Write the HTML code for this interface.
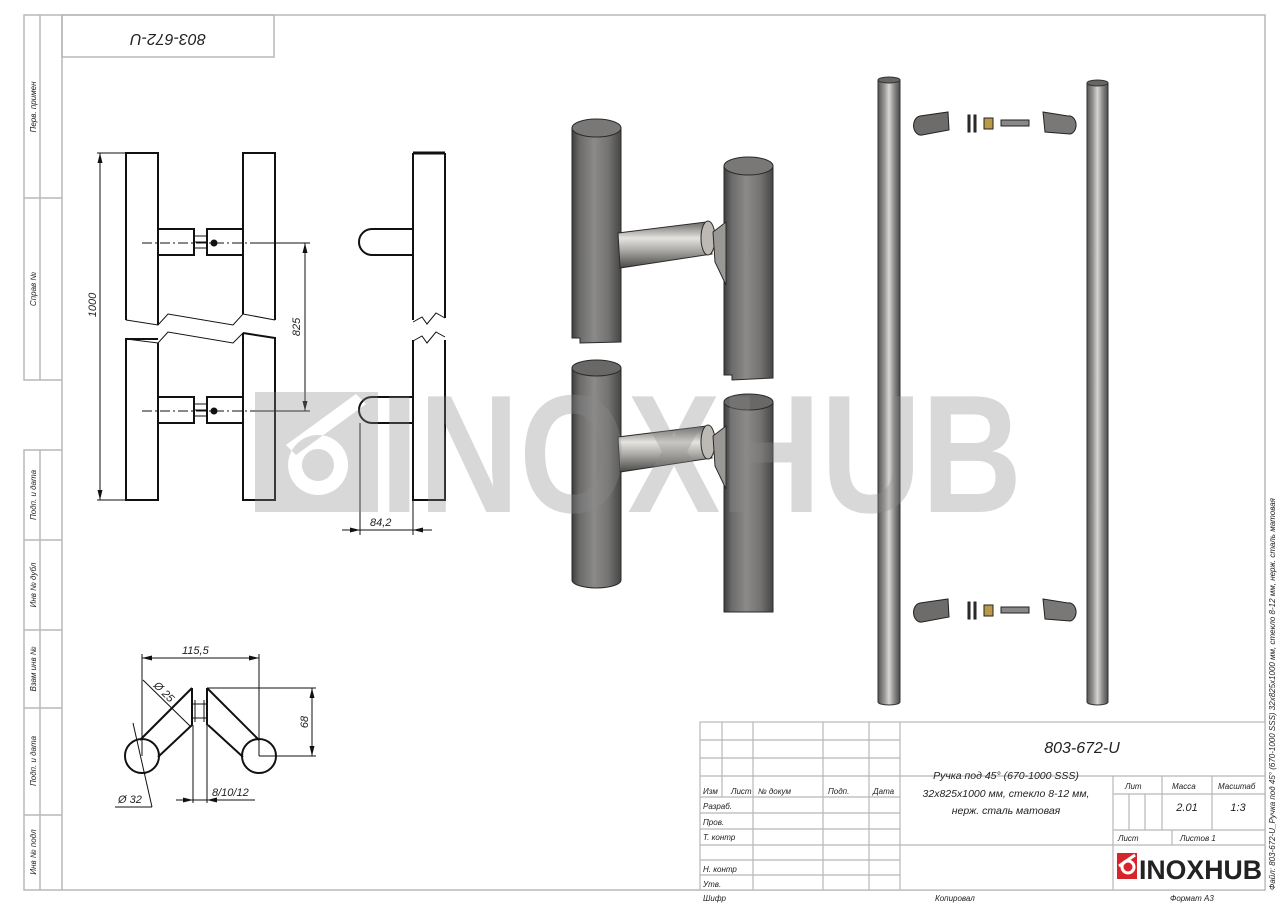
<!DOCTYPE html>
<html><head><meta charset="utf-8"><style>
html,body{margin:0;padding:0;background:#fff}
svg{display:block}
text{font-family:"Liberation Sans",sans-serif;font-style:italic;fill:#222}
</style></head><body>
<svg width="1280" height="905" viewBox="0 0 1280 905" xmlns="http://www.w3.org/2000/svg">
<defs>
<linearGradient id="cyl" x1="0" x2="1" y1="0" y2="0">
<stop offset="0" stop-color="#3e3e3e"/><stop offset="0.15" stop-color="#6a6a6a"/><stop offset="0.45" stop-color="#8c8a88"/><stop offset="0.75" stop-color="#737270"/><stop offset="1" stop-color="#454545"/>
</linearGradient>
<linearGradient id="bar" x1="0" x2="1" y1="0" y2="0">
<stop offset="0" stop-color="#555"/><stop offset="0.3" stop-color="#9a9896"/><stop offset="0.5" stop-color="#d8d6d4"/><stop offset="0.75" stop-color="#8a8886"/><stop offset="1" stop-color="#4a4a4a"/>
</linearGradient>
<linearGradient id="con" x1="0" x2="0" y1="0" y2="1">
<stop offset="0" stop-color="#6a6866"/><stop offset="0.35" stop-color="#e6e4e0"/><stop offset="0.6" stop-color="#b0aeaa"/><stop offset="1" stop-color="#4a4846"/>
</linearGradient>
</defs>

<!-- frame -->
<g fill="none" stroke="#b8b8b8" stroke-width="1.5">
<rect x="62" y="15" width="1203" height="875"/>
<rect x="62" y="15" width="212" height="42"/>
<polyline points="62,15 24,15 24,380 62,380"/>
<line x1="40" y1="15" x2="40" y2="380"/>
<line x1="24" y1="198" x2="62" y2="198"/>
<polyline points="62,450 24,450 24,890 62,890"/>
<line x1="40" y1="450" x2="40" y2="890"/>
<line x1="24" y1="540" x2="62" y2="540"/>
<line x1="24" y1="630" x2="62" y2="630"/>
<line x1="24" y1="708" x2="62" y2="708"/>
<line x1="24" y1="815" x2="62" y2="815"/>
</g>
<text x="168" y="38" font-size="16" text-anchor="middle" transform="rotate(180 168 38)" dominant-baseline="middle">803-672-U</text>
<g font-size="8">
<text transform="translate(36,107) rotate(-90)" text-anchor="middle">Перв. примен</text>
<text transform="translate(36,289) rotate(-90)" text-anchor="middle">Справ №</text>
<text transform="translate(36,495) rotate(-90)" text-anchor="middle">Подп. и дата</text>
<text transform="translate(36,585) rotate(-90)" text-anchor="middle">Инв № дубл</text>
<text transform="translate(36,669) rotate(-90)" text-anchor="middle">Взам инв №</text>
<text transform="translate(36,761) rotate(-90)" text-anchor="middle">Подп. и дата</text>
<text transform="translate(36,852) rotate(-90)" text-anchor="middle">Инв № подл</text>
</g>

<!-- front view -->
<g fill="none" stroke="#111" stroke-width="2">
<polyline points="126,320 126,153 158,153 158,325"/>
<polyline points="243,314 243,153 275,153 275,320"/>
<polyline points="158,339 126,339 126,500 158,500 158,343"/>
<polyline points="243,333 275,338 275,500 243,500 243,333"/>
<line x1="158" y1="343" x2="158" y2="500"/>
<rect x="158" y="229" width="36" height="26"/><rect x="207" y="229" width="36" height="26"/>
<rect x="158" y="397" width="36" height="26"/><rect x="207" y="397" width="36" height="26"/>
</g>
<g fill="none" stroke="#111" stroke-width="1">
<polyline points="126,320 158,325 168,314 233,325 243,314 275,320"/>
<polyline points="126,339 158,343 168,332 233,343 243,333 275,338"/>
<rect x="194" y="236" width="13" height="12"/><line x1="194" y1="242" x2="207" y2="242"/>
<rect x="194" y="404" width="13" height="12"/><line x1="194" y1="410" x2="207" y2="410"/>
<line x1="142" y1="243" x2="260" y2="243" stroke-dasharray="10,3,2,3"/>
<line x1="142" y1="411" x2="260" y2="411" stroke-dasharray="10,3,2,3"/>
<line x1="97" y1="153" x2="126" y2="153"/><line x1="97" y1="500" x2="126" y2="500"/>
<line x1="100" y1="153" x2="100" y2="500"/>
<line x1="260" y1="243" x2="310" y2="243"/><line x1="260" y1="411" x2="310" y2="411"/>
<line x1="305" y1="243" x2="305" y2="411"/>
</g>
<circle cx="214" cy="243" r="3.5" fill="#111"/><circle cx="214" cy="411" r="3.5" fill="#111"/>
<g fill="#111">
<path d="M100,153 l-2.5,10 h5z"/><path d="M100,500 l-2.5,-10 h5z"/>
<path d="M305,243 l-2.5,10 h5z"/><path d="M305,411 l-2.5,-10 h5z"/>
</g>
<text font-size="11" transform="translate(96,305) rotate(-90)" text-anchor="middle">1000</text>
<text font-size="11" transform="translate(300,327) rotate(-90)" text-anchor="middle">825</text>

<!-- side view -->
<g fill="none" stroke="#111" stroke-width="2">
<line x1="413" y1="153" x2="445" y2="153" stroke-width="3"/>
<polyline points="413,320 413,153"/><polyline points="445,153 445,318"/>
<polyline points="413,340 413,500 445,500 445,340"/>
<path d="M413,229 H372 A13,13 0 0 0 372,255 H413"/>
<path d="M413,397 H372 A13,13 0 0 0 372,423 H413"/>
</g>
<g fill="none" stroke="#111" stroke-width="1">
<polyline points="413,322 422,317 427,324 436,313 445,318"/>
<polyline points="413,341 422,336 427,343 436,332 445,337"/>
<line x1="360" y1="423" x2="360" y2="535"/><line x1="413" y1="500" x2="413" y2="535"/>
<line x1="342" y1="530" x2="432" y2="530"/>
</g>
<g fill="#111"><path d="M360,530 l-10,-2.5 v5z"/><path d="M413,530 l10,-2.5 v5z"/></g>
<text x="370" y="526" font-size="11">84,2</text>

<!-- bottom view -->
<g fill="none" stroke="#111" stroke-width="2">
<circle cx="142" cy="756" r="17"/><circle cx="259" cy="756" r="17"/>
<line x1="140" y1="740" x2="192" y2="688"/><line x1="158" y1="757" x2="192" y2="725"/>
<line x1="192" y1="688" x2="192" y2="725"/>
<line x1="207" y1="688" x2="259" y2="740"/><line x1="208" y1="725" x2="243" y2="757"/>
<line x1="207" y1="688" x2="207" y2="725"/>
</g>
<g fill="none" stroke="#111" stroke-width="1">
<line x1="192" y1="704" x2="207" y2="704"/><line x1="192" y1="718" x2="207" y2="718"/>
<line x1="195" y1="700" x2="195" y2="722"/><line x1="204" y1="700" x2="204" y2="722"/>
<line x1="142" y1="654" x2="142" y2="756"/><line x1="259" y1="654" x2="259" y2="756"/>
<line x1="142" y1="658" x2="259" y2="658"/>
<line x1="207" y1="688" x2="316" y2="688"/><line x1="259" y1="756" x2="316" y2="756"/>
<line x1="312" y1="688" x2="312" y2="756"/>
<line x1="143" y1="680" x2="190" y2="726"/>
<line x1="133" y1="723" x2="152" y2="807"/><line x1="115" y1="807" x2="152" y2="807"/>
<line x1="193" y1="725" x2="193" y2="803"/><line x1="207" y1="725" x2="207" y2="803"/>
<line x1="176" y1="800" x2="255" y2="800"/>
</g>
<g fill="#111">
<path d="M142,658 l10,-2.5 v5z"/><path d="M259,658 l-10,-2.5 v5z"/>
<path d="M312,688 l-2.5,10 h5z"/><path d="M312,756 l-2.5,-10 h5z"/>
<path d="M193,800 l-10,-2.5 v5z"/><path d="M207,800 l10,-2.5 v5z"/>
</g>
<text x="182" y="654" font-size="11">115,5</text>
<text font-size="11" transform="translate(308,722) rotate(-90)" text-anchor="middle">68</text>
<text font-size="11" transform="translate(153,686) rotate(45)">Ø 25</text>
<text x="118" y="803" font-size="11">Ø 32</text>
<text x="212" y="796" font-size="11">8/10/12</text>

<!-- 3D handle -->
<g stroke="#2a2a2a" stroke-width="1">
<path d="M572,128 V338 L580,338 L580,343 L621,342 V128z" fill="url(#cyl)"/>
<ellipse cx="596.5" cy="128" rx="24.5" ry="9" fill="#7a7876"/>
<path d="M724,166 V375 L732,375 L732,380 L773,378 V166z" fill="url(#cyl)"/>
<ellipse cx="748.5" cy="166" rx="24.5" ry="9" fill="#7a7876"/>
<path d="M572,368 V580 A24.5,8 0 0 0 621,580 V368z" fill="url(#cyl)"/>
<path d="M572,368 A24.5,8 0 0 1 621,368 A24.5,8 0 0 1 572,368z" fill="#6a6866"/>
<path d="M724,402 V612 L773,612 V402z" fill="url(#cyl)"/>
<path d="M724,402 A24.5,8 0 0 1 773,402 A24.5,8 0 0 1 724,402z" fill="#6a6866"/>
<path d="M618,233 L706,222 L712,254 L620,268z" fill="url(#con)"/>
<ellipse cx="708" cy="238" rx="7" ry="17" fill="#bdbab6"/>
<path d="M713,232 L726,222 L726,285 L715,262z" fill="#9a9894"/>
<path d="M618,437 L706,426 L712,458 L620,472z" fill="url(#con)"/>
<ellipse cx="708" cy="442" rx="7" ry="17" fill="#bdbab6"/>
<path d="M713,436 L726,426 L726,489 L715,466z" fill="#9a9894"/>
</g>

<!-- long bars -->
<g stroke="#333" stroke-width="1">
<path d="M878,80 V702 A11,3 0 0 0 900,702 V80z" fill="url(#bar)"/>
<ellipse cx="889" cy="80" rx="11" ry="3" fill="#666"/>
<path d="M1087,83 V702 A10.5,3 0 0 0 1108,702 V83z" fill="url(#bar)"/>
<ellipse cx="1097.5" cy="83" rx="10.5" ry="3" fill="#666"/>
</g>
<g id="parts" stroke="#222" stroke-width="1">
<path d="M920,116 L948,112 L949,130 L922,135 A7,9 0 0 1 920,116z" fill="#6e6c6a"/>
<rect x="968" y="115" width="2" height="17" fill="#333"/><rect x="974" y="115" width="2" height="17" fill="#333"/>
<rect x="984" y="118" width="9" height="11" fill="#b89a4a"/>
<rect x="1001" y="120" width="28" height="6" fill="#888"/>
<path d="M1043,112 L1068,116 A7,9 0 0 1 1070,134 L1045,132z" fill="#7a7876"/>
</g>
<use href="#parts" y="487"/>

<!-- watermark -->
<g fill="rgb(140,140,140)" opacity="0.33">
<path fill-rule="evenodd" d="M255,392 H378 V512 H255z M318,435 a30,30 0 1 0 0.1,0z M318,449 a16,16 0 1 1 -0.1,0z M356,394 L286,445 L296,455 L366,404z"/>
<text x="380" y="512" font-size="168" font-weight="bold" textLength="642" lengthAdjust="spacingAndGlyphs" style="font-style:normal;fill:rgb(140,140,140)">INOXHUB</text>
</g>

<!-- title block -->
<rect x="700" y="722" width="565" height="168" fill="#fff"/>
<g fill="none" stroke="#b8b8b8" stroke-width="1.2">
<rect x="700" y="722" width="565" height="168"/>
<line x1="700" y1="740" x2="900" y2="740"/><line x1="700" y1="758" x2="900" y2="758"/>
<line x1="700" y1="776" x2="1265" y2="776"/>
<line x1="700" y1="797" x2="900" y2="797"/><line x1="700" y1="813" x2="900" y2="813"/>
<line x1="700" y1="829" x2="900" y2="829"/><line x1="700" y1="845" x2="1265" y2="845"/>
<line x1="700" y1="860" x2="900" y2="860"/><line x1="700" y1="875" x2="900" y2="875"/>
<line x1="722" y1="722" x2="722" y2="797"/>
<line x1="753" y1="722" x2="753" y2="890"/>
<line x1="823" y1="722" x2="823" y2="890"/>
<line x1="869" y1="722" x2="869" y2="890"/>
<line x1="900" y1="722" x2="900" y2="890"/>
<line x1="1113" y1="776" x2="1113" y2="890"/>
<line x1="1113" y1="794" x2="1265" y2="794"/>
<line x1="1113" y1="830" x2="1265" y2="830"/>
<line x1="1162" y1="776" x2="1162" y2="830"/>
<line x1="1212" y1="776" x2="1212" y2="830"/>
<line x1="1129" y1="794" x2="1129" y2="830"/><line x1="1145" y1="794" x2="1145" y2="830"/>
<line x1="1172" y1="830" x2="1172" y2="845"/>
</g>
<text x="1082" y="753" font-size="16" text-anchor="middle">803-672-U</text>
<g font-size="10.5" text-anchor="middle">
<text x="1006" y="779">Ручка под 45° (670-1000 SSS)</text>
<text x="1006" y="797">32х825х1000 мм, стекло 8-12 мм,</text>
<text x="1006" y="814">нерж. сталь матовая</text>
</g>
<g font-size="8">
<text x="703" y="794">Изм</text><text x="731" y="794">Лист</text><text x="758" y="794">№ докум</text>
<text x="828" y="794">Подп.</text><text x="873" y="794">Дата</text>
<text x="703" y="809">Разраб.</text><text x="703" y="825">Пров.</text><text x="703" y="840">Т. контр</text>
<text x="703" y="872">Н. контр</text><text x="703" y="887">Утв.</text>
<text x="1125" y="789">Лит</text><text x="1172" y="789">Масса</text><text x="1218" y="789">Масштаб</text>
<text x="1118" y="841">Лист</text><text x="1180" y="841">Листов 1</text>
<text x="703" y="901">Шифр</text><text x="935" y="901">Копировал</text><text x="1170" y="901">Формат А3</text>
</g>
<text x="1187" y="811" font-size="11" text-anchor="middle">2.01</text>
<text x="1238" y="811" font-size="11" text-anchor="middle">1:3</text>
<rect x="1117" y="853" width="20" height="26" fill="#d6262b"/>
<circle cx="1128" cy="867" r="6" fill="none" stroke="#fff" stroke-width="3"/>
<line x1="1135" y1="855" x2="1119" y2="866" stroke="#fff" stroke-width="3"/>
<text x="1139" y="879" font-size="27" font-weight="bold" textLength="123" lengthAdjust="spacingAndGlyphs" style="font-style:normal;fill:#222">INOXHUB</text>
<text font-size="8" transform="translate(1275,890) rotate(-90)">Файл: 803-672-U_Ручка под 45° (670-1000 SSS) 32х825х1000 мм, стекло 8-12 мм, нерж. сталь матовая</text>
</svg>
</body></html>
